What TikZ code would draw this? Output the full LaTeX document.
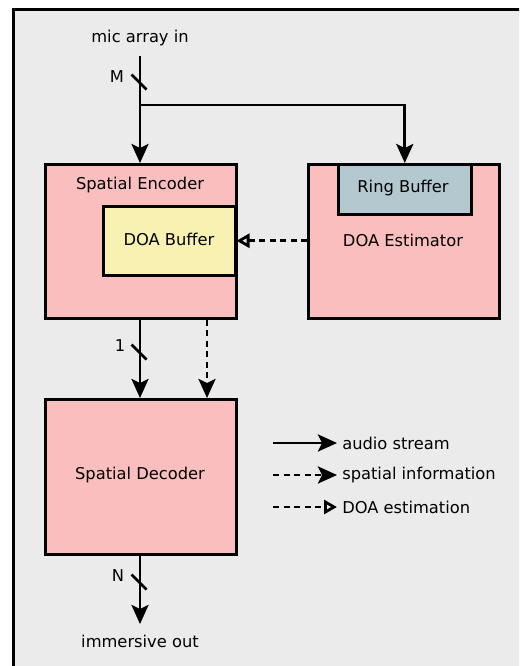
\documentclass[tikz,border=0pt]{standalone}
\usepackage{fontspec}
\setmainfont{DejaVu Sans}
\usetikzlibrary{arrows.meta,calc}
\definecolor{bgc}{RGB}{235,235,235}
\definecolor{pinkc}{RGB}{250,190,190}
\definecolor{yelc}{RGB}{249,241,178}
\definecolor{bluc}{RGB}{180,200,208}
\begin{document}
\begin{tikzpicture}[x=1pt,y=-1pt,
  blk/.style={draw=black,line width=2.5pt,inner sep=0pt,anchor=north west},
  txt/.style={inner sep=0pt,font=\fontsize{12pt}{14pt}\selectfont,scale=1.358},
  flow/.style={line width=2.8pt,-{Stealth[length=19pt,width=17pt,inset=4pt]}},
  info/.style={line width=2.8pt,dash pattern=on 6pt off 4.5pt,-{Stealth[length=19pt,width=17pt,inset=4pt]}},
  doa/.style={line width=2.8pt,dash pattern=on 6pt off 4.5pt,-{Triangle[open,length=13pt,width=14pt,line width=2.8pt]}},
  slash/.style={line width=2.8pt}
]
\useasboundingbox (0,0) rectangle (519,666);
\clip (0,0) rectangle (519,666);
\fill[white] (0,0) rectangle (519,666);
\draw[fill=bgc,line width=2.8pt] (13.5,9.5) rectangle (560,700);

% blocks
\node[blk,fill=pinkc,minimum width=191pt,minimum height=154pt] (enc) at (44,163) {};
\node[blk,fill=yelc,minimum width=132pt,minimum height=69pt] (dbuf) at (102,205) {};
\node[blk,fill=pinkc,minimum width=191pt,minimum height=154pt] (est) at (307,163) {};
\node[blk,fill=bluc,minimum width=133pt,minimum height=50pt] (rbuf) at (337,163) {};
\node[blk,fill=pinkc,minimum width=191pt,minimum height=155pt] (dec) at (44,398) {};

% block texts
\node[txt] (enct) at (140,185) {Spatial Encoder};
\node[txt] (dbuft) at (169,239) {DOA Buffer};
\node[txt] (rbuft) at (403,188) {Ring Buffer};
\node[txt] (estt) at (403,240) {DOA Estimator};
\node[txt] (dect) at (140,475) {Spatial Decoder};

% io texts
\node[txt] (in) at (140,38) {mic array in};
\node[txt] (out) at (140,641) {immersive out};
\node[txt] (lM) at (117,77) {M};
\node[txt] (l1) at (120,346) {1};
\node[txt] (lN) at (118,576) {N};

% coordinates
\coordinate (instart) at (140,56);
\coordinate (split) at (140,105);
\coordinate (outend) at (140,624);
\coordinate (dx) at (207,0);
\coordinate (s1) at (139,82);
\coordinate (s2) at (139,352);
\coordinate (s3) at (139,582);

% connectors
\draw[line width=2.8pt] (instart) -- (split);
\draw[flow] (split) -- (split |- enc.north);
\draw[flow] (split) -- (rbuf.north |- split) -- (rbuf.north);
\draw[flow] (enc.south -| split) -- (dec.north -| split);
\draw[info] (enc.south -| dx) -- (dec.north -| dx);
\draw[flow] (dec.south -| split) -- (outend);
\draw[doa] (est.west |- dbuf.east) -- (dbuf.east);

% slashes
\foreach \s in {s1,s2,s3}{
  \draw[slash] ($(\s)+(-7.5,-7.5)$) -- ($(\s)+(7.5,7.5)$);
}

% legend
\coordinate (la1) at (273,443); \coordinate (lb1) at (337,443);
\coordinate (la2) at (273,475); \coordinate (lb2) at (337,475);
\coordinate (la3) at (273,507); \coordinate (lb3) at (337,507);
\draw[flow] (la1) -- (lb1);
\draw[info] (la2) -- (lb2);
\draw[doa] (la3) -- (lb3);
\node[txt,anchor=west] (t1) at (342,443) {audio stream};
\node[txt,anchor=west] (t2) at (342,475) {spatial information};
\node[txt,anchor=west] (t3) at (342,507) {DOA estimation};
\end{tikzpicture}
\end{document}
